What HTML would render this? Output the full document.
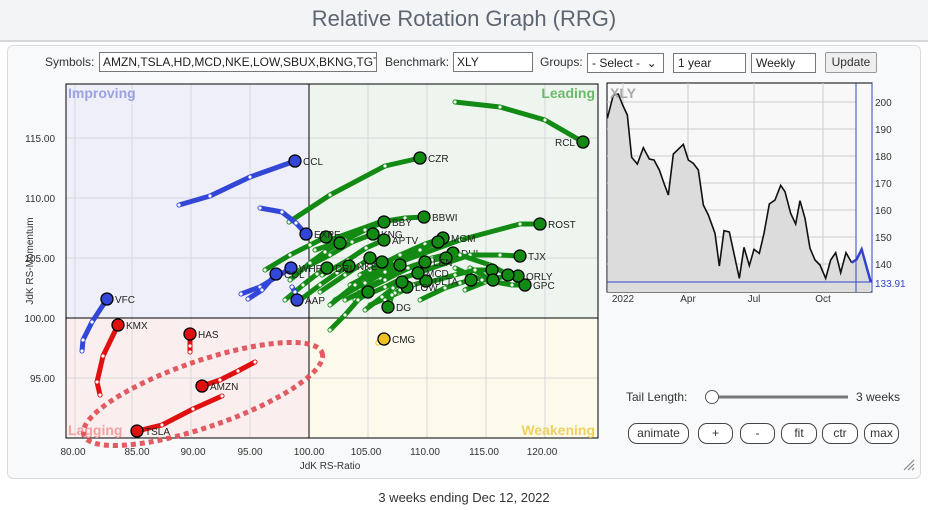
<!DOCTYPE html>
<html><head><meta charset="utf-8">
<style>
body{margin:0;width:928px;height:510px;background:#fff;font-family:"Liberation Sans",sans-serif;overflow:hidden;position:relative}
.hdr{position:absolute;left:0;top:0;width:928px;height:40px;background:#f3f4f6;border-bottom:2px solid #d4d6d9}
.title{position:absolute;top:6px;width:928px;text-align:center;font-size:22px;color:#5d6670}
.panel{position:absolute;left:7px;top:45px;width:912px;height:432px;background:#f8f9fa;border:1px solid #d8dadc;border-radius:6px}
.t{position:absolute;font-size:12px;color:#333}
.inp{position:absolute;border:1px solid #777;background:#fff;font-size:12px;line-height:18px;padding-left:3px;box-sizing:border-box;height:20px;color:#222;overflow:hidden;white-space:nowrap}
.sel{position:absolute;height:20px;border:1px solid #777;background:#fff;font-size:12px;line-height:18px;padding-left:4px;box-sizing:border-box;color:#222}
.btn{position:absolute;height:21px;border:1px solid #444;border-radius:9px;background:#fff;font-size:12px;line-height:19px;text-align:center;box-sizing:border-box;color:#333}
svg{position:absolute;left:0;top:0}
</style></head><body>
<div class="hdr"><div class="title">Relative Rotation Graph (RRG)</div></div>
<div class="panel"></div>
<div class="t" style="left:45px;top:55px">Symbols:</div>
<div class="inp" style="left:99px;top:52px;width:278px">AMZN,TSLA,HD,MCD,NKE,LOW,SBUX,BKNG,TGT</div>
<div class="t" style="left:385px;top:55px">Benchmark:</div>
<div class="inp" style="left:453px;top:52px;width:80px">XLY</div>
<div class="t" style="left:540px;top:55px">Groups:</div>
<div class="sel" style="left:587px;top:53px;width:77px">- Select - &nbsp;⌄</div>
<div class="sel" style="left:673px;top:53px;width:73px">1 year</div>
<div class="sel" style="left:751px;top:53px;width:65px">Weekly</div>
<div class="btn" style="left:825px;top:52px;width:52px;border-radius:2px;background:#eee;border-color:#999">Update</div>
<div class="t" style="left:626px;top:390px">Tail Length:</div>
<div class="t" style="left:856px;top:390px">3 weeks</div>
<div class="btn" style="left:628px;top:423px;width:61px">animate</div>
<div class="btn" style="left:698px;top:423px;width:35px">+</div>
<div class="btn" style="left:740px;top:423px;width:35px">-</div>
<div class="btn" style="left:781px;top:423px;width:36px">fit</div>
<div class="btn" style="left:822px;top:423px;width:36px">ctr</div>
<div class="btn" style="left:864px;top:423px;width:35px">max</div>
<div class="t" style="left:0;width:928px;text-align:center;top:490px;font-size:13px">3 weeks ending Dec 12, 2022</div>
<svg width="928" height="510" id="s" font-family="Liberation Sans, sans-serif">
<rect x="66" y="84" width="243" height="234" fill="#eeeff8"/>
<rect x="309" y="84" width="289" height="234" fill="#eef5ee"/>
<rect x="66" y="318" width="243" height="120" fill="#fbeeee"/>
<rect x="309" y="318" width="289" height="120" fill="#fbfaeb"/>
<g stroke="#d8d8dc" stroke-width="1" id="grid"></g>
<line x1="309" y1="84" x2="309" y2="438" stroke="#000"/>
<line x1="66" y1="318" x2="598" y2="318" stroke="#000"/>
<rect x="66" y="84" width="532" height="354" fill="none" stroke="#000"/>
<g font-size="14" font-weight="bold">
<text x="68" y="98" fill="#9ba2e2">Improving</text>
<text x="595" y="98" fill="#6cba6c" text-anchor="end">Leading</text>
<text x="68" y="435" fill="#f2a0a0">Lagging</text>
<text x="595" y="435" fill="#f0d060" text-anchor="end">Weakening</text>
</g>
<g font-size="10" fill="#333" id="ticks"></g>
<text x="330" y="469" font-size="10" fill="#333" text-anchor="middle">JdK RS-Ratio</text>
<text transform="translate(33,261) rotate(-90)" font-size="10" fill="#333" text-anchor="middle">JdK RS-Momentum</text>
<g id="tails"></g>
<ellipse cx="203" cy="394" rx="126" ry="33" transform="rotate(-19 203 394)" fill="none" stroke="#e04a52" stroke-width="5" stroke-dasharray="5,4" opacity="0.9"/>
<rect x="607" y="83" width="265" height="209" fill="#f8f8f8" stroke="#000"/>
<g id="mini"></g>
<line x1="856" y1="83" x2="856" y2="292" stroke="#3344cc"/>
<line x1="872" y1="83" x2="872" y2="292" stroke="#3344cc"/>
<line x1="607" y1="282" x2="872" y2="282" stroke="#3344cc"/>
<text x="610" y="98" font-size="14" font-weight="bold" fill="#aaa">XLY</text>
<g font-size="10" fill="#333" id="mticks"></g>
<text x="875" y="287" font-size="10" fill="#3344cc">133.91</text>
<line x1="705" y1="397" x2="848" y2="397" stroke="#777" stroke-width="3"/>
<circle cx="712" cy="397" r="6.5" fill="#fff" stroke="#555"/>
<g stroke="#888" stroke-width="1.2"><line x1="904" y1="470" x2="914" y2="460"/><line x1="908" y1="470" x2="914" y2="464"/><line x1="912" y1="470" x2="914" y2="468"/></g>
</svg>
<script>
const NS="http://www.w3.org/2000/svg";
function el(p,t,a,txt){const e=document.createElementNS(NS,t);for(const k in a)e.setAttribute(k,a[k]);if(txt)e.textContent=txt;document.getElementById(p).appendChild(e);return e;}
for(const x of [75,132,191,250,368,427,486,545])el('grid','line',{x1:x,y1:84,x2:x,y2:438});
for(const y of [138,198,258,378])el('grid','line',{x1:66,y1:y,x2:598,y2:y});
[[80,73],[85,137],[90,193],[95,250],[100,309],[105,366],[110,425],[115,484],[120,542]].forEach(a=>el('ticks','text',{x:a[1],y:455,'text-anchor':'middle'},a[0].toFixed(2)));
[[115,138],[110,198],[105,258],[100,318],[95,378]].forEach(a=>el('ticks','text',{x:55,y:a[1]+4,'text-anchor':'end'},a[0].toFixed(2)));
function tail(pts,col,lab,left){
 let d='M'+pts[0][0]+','+pts[0][1];
 for(let i=1;i<pts.length;i++)d+=' L'+pts[i][0]+','+pts[i][1];
 el('tails','path',{d:d,fill:'none',stroke:col,'stroke-width':5,'stroke-linecap':'round','stroke-linejoin':'round'});
 for(let i=0;i<pts.length-1;i++)el('tails','circle',{cx:pts[i][0],cy:pts[i][1],r:2,fill:'#fff',stroke:col,'stroke-width':0.8});
 const e=pts[pts.length-1];
 el('tails','circle',{cx:e[0],cy:e[1],r:6,fill:col,stroke:'#000','stroke-width':1.3});
 if(lab)el('tails','text',left?{x:e[0]-8,y:e[1]+4,'font-size':10,fill:'#222','text-anchor':'end'}:{x:e[0]+8,y:e[1]+4,'font-size':10,fill:'#222'},lab);
}
const G='#138a13',B='#3347d6',R='#e01010';
const gr=[[583,142,'RCL',[[455,102],[500,107],[545,120]]],[420,158,'CZR',[[289,222],[330,195],[385,166]]],
[424,217,'BBWI',[[330,240],[380,222],[405,218]]],[540,224,'ROST',[[400,262],[460,240],[520,224]]],
[384,222,'BBY',[[315,250],[345,240],[365,230]]],[373,234,'KNG',[[300,270],[330,255],[352,242]]],
[384,240,'APTV',[[322,275],[348,260],[366,248]]],[443,238,'MGM',[[360,275],[400,255],[425,244]]],[438,242,'',[[350,285],[395,262],[420,250]]],
[453,253,'DHI',[[360,290],[405,270],[432,258]]],[520,256,'TJX',[[420,272],[470,255],[500,255]]],
[525,285,'GPC',[[470,268],[495,282],[512,285]]],[518,276,'ORLY',[[460,255],[490,265],[505,273]]],[508,275,'',[[465,290],[485,282],[498,278]]],
[492,270,'',[[430,282],[455,275],[475,270]]],[493,280,'',[[455,268],[470,275],[482,280]]],[471,280,'',[[420,300],[445,288],[460,283]]],
[446,258,'',[[380,278],[415,265],[432,260]]],[425,262,'LEN',[[345,300],[385,280],[408,268]]],[426,281,'ULTA',[[370,305],[398,293],[413,285]]],
[418,273,'MCD',[[355,300],[385,287],[403,278]]],[400,265,'',[[335,300],[365,283],[385,272]]],[382,262,'',[[330,305],[355,285],[370,270]]],
[370,258,'',[[320,292],[345,275],[360,265]]],[349,266,'NKE',[[300,300],[320,285],[337,273]]],[327,268,'DRI',[[285,300],[303,285],[317,274]]],
[407,287,'LOW',[[385,300],[395,293],[400,290]]],[368,292,'',[[330,330],[345,315],[358,300]]],[388,307,'DG',[[392,295],[390,302],[389,305]]],
[326,237,'',[[265,270],[290,255],[310,245]]],[340,243,'',[[290,280],[310,263],[325,252]]],[402,282,'',[[365,310],[382,297],[393,288]]]];
gr.forEach(g=>tail(g[3].concat([[g[0],g[1]]]),G,g[2],g[2]==='RCL'));
tail([[179,205],[210,196],[250,177],[295,161]],B,'CCL');
tail([[260,208],[282,212],[296,223],[306,234]],B,'EXPE');
tail([[82,351],[83,340],[92,322],[107,299]],B,'VFC');
tail([[292,287],[295,292],[297,300]],B,'AAP');
tail([[241,294],[260,287],[291,268]],B,'WHR');
tail([[248,299],[262,290],[276,274]],B,'COL');
tail([[100,395],[97,382],[103,356],[118,325]],R,'KMX');
tail([[190,352],[190,346],[190,334]],R,'HAS');
tail([[255,362],[238,371],[220,380],[202,386]],R,'AMZN');
tail([[222,396],[193,409],[162,425],[137,431]],R,'TSLA');
tail([[378,343],[381,341],[384,339]],'#f0c020','CMG');
for(const x of [623,688,754,823])el('mini','line',{x1:x,y1:83,x2:x,y2:292,stroke:'#ccc'});
for(const v of [200,190,180,170,160,150,140]){const y=264-(v-140)*2.7;el('mini','line',{x1:607,y1:y,x2:856,y2:y,stroke:'#ccc'});el('mticks','text',{x:875,y:y+4},v);}
[['2022',623],['Apr',688],['Jul',754],['Oct',823]].forEach(a=>el('mticks','text',{x:a[1],y:302,'text-anchor':'middle'},a[0]));
const z=[[22,115],[40,45],[55,42],[68,75],[82,105],[95,232],[112,252],[130,203],[148,237],[162,240],[178,270],[192,310],[205,345],[220,222],[250,193],[265,240],[280,250],[295,270],[310,375],[325,405],[345,460],[358,558],[372,452],[388,456],[418,595],[432,502],[448,557],[462,508],[478,520],[492,460],[508,372],[525,360],[542,316],[555,335],[572,400],[587,432],[600,362],[615,415],[630,505],[645,540],[660,555],[677,595],[692,540],[707,518],[722,578],[738,518],[755,548],[770,538],[785,508],[812,605]].map(p=>[p[0]/3+600,p[1]/3+80]);
let d='M'+z.map(p=>p[0].toFixed(1)+','+p[1].toFixed(1)).join(' L');
el('mini','path',{d:d+' L'+z[z.length-1][0]+',292 L'+z[0][0]+',292 Z',fill:'#dcdcdc'});
const k=z.findIndex(p=>p[0]>=856);
el('mini','path',{d:'M'+z.slice(0,k).map(p=>p[0]+','+p[1]).join(' L'),fill:'none',stroke:'#111','stroke-width':1.6});
el('mini','path',{d:'M'+z.slice(k-1).map(p=>p[0]+','+p[1]).join(' L'),fill:'none',stroke:'#3344cc','stroke-width':2.5});
</script>
</body></html>
